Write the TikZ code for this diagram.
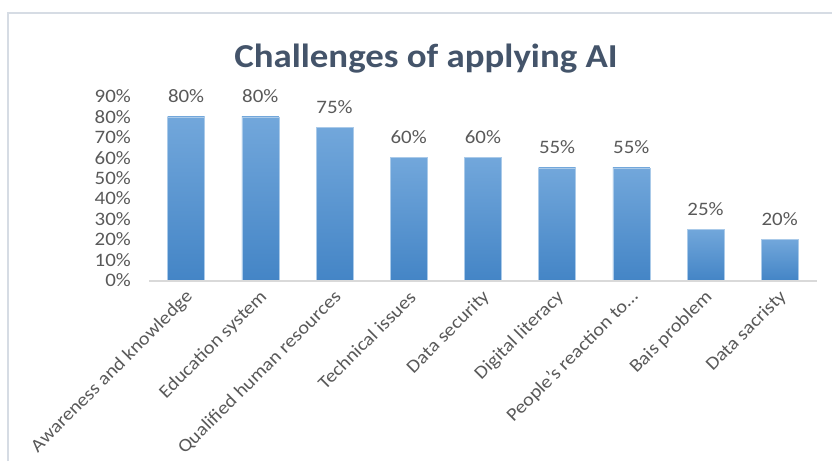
\documentclass[tikz,border=0pt]{standalone}
\usepackage{fontspec}
\setmainfont{Carlito}[FakeStretch=1.1]
\usepackage{tikz}
\usetikzlibrary{calc}

\definecolor{titlegray}{HTML}{44546A}
\definecolor{labelgray}{HTML}{595959}
\definecolor{axisgray}{HTML}{D9D9D9}
\definecolor{framegray}{HTML}{D6DCE4}
\definecolor{bartop}{HTML}{72A7DB}
\definecolor{barbottom}{HTML}{4485C6}

\tikzset{
  ticklabel/.style={anchor=east, inner sep=0pt, text=labelgray, font=\fontsize{19}{20}\selectfont},
  vallabel/.style={anchor=base, inner sep=0pt, text=labelgray, font=\fontsize{19}{20}\selectfont},
  catlabel/.style={anchor=east, rotate=45, inner sep=0pt, text=labelgray, font=\fontsize{18.5}{20}\selectfont},
  barshade/.style={top color=bartop, bottom color=barbottom, draw=bartop!60!white, line width=0.6pt}
}

\begin{document}
\begin{tikzpicture}[x=1pt, y=-1pt]
                \useasboundingbox (0,0) rectangle (832,463);
                % chart frame, cut off at right and bottom
                \draw[framegray, line width=2pt] (8,461) -- (8,13) -- (832,13);
                \node[anchor=base, inner sep=0pt, text=titlegray, font=\fontsize{33.5}{36}\selectfont\bfseries] (title) at (426,67) {Challenges of applying AI};
                \foreach \p [count=\j from 0] in {0,10,...,90} {
                    \node[ticklabel] (tick\j) at (131,{280-2.04*\p}) {\p\%};
                }
                \foreach \lab/\val [count=\i] in {Awareness and knowledge/80, Education system/80, Qualified human resources/75, Technical issues/60, Data security/60, Digital literacy/55, People's reaction to\ldots/55, Bais problem/25, Data sacristy/20} {
                    \pgfmathsetmacro{\cx}{149+(\i-0.5)*74.2}
                    \pgfmathsetmacro{\top}{280-2.04*\val}
                    \shade[barshade] ({\cx-18.5},280) rectangle ({\cx+18.5},\top);
                    \node[vallabel] (val\i) at (\cx,{\top-14}) {\val\%};
                    \node[catlabel] (cat\i) at ({\cx+4},294) {\lab};
                }
                \draw[axisgray, line width=1.5pt] (149,281) -- (817,281);
            \end{tikzpicture}
\end{document}
